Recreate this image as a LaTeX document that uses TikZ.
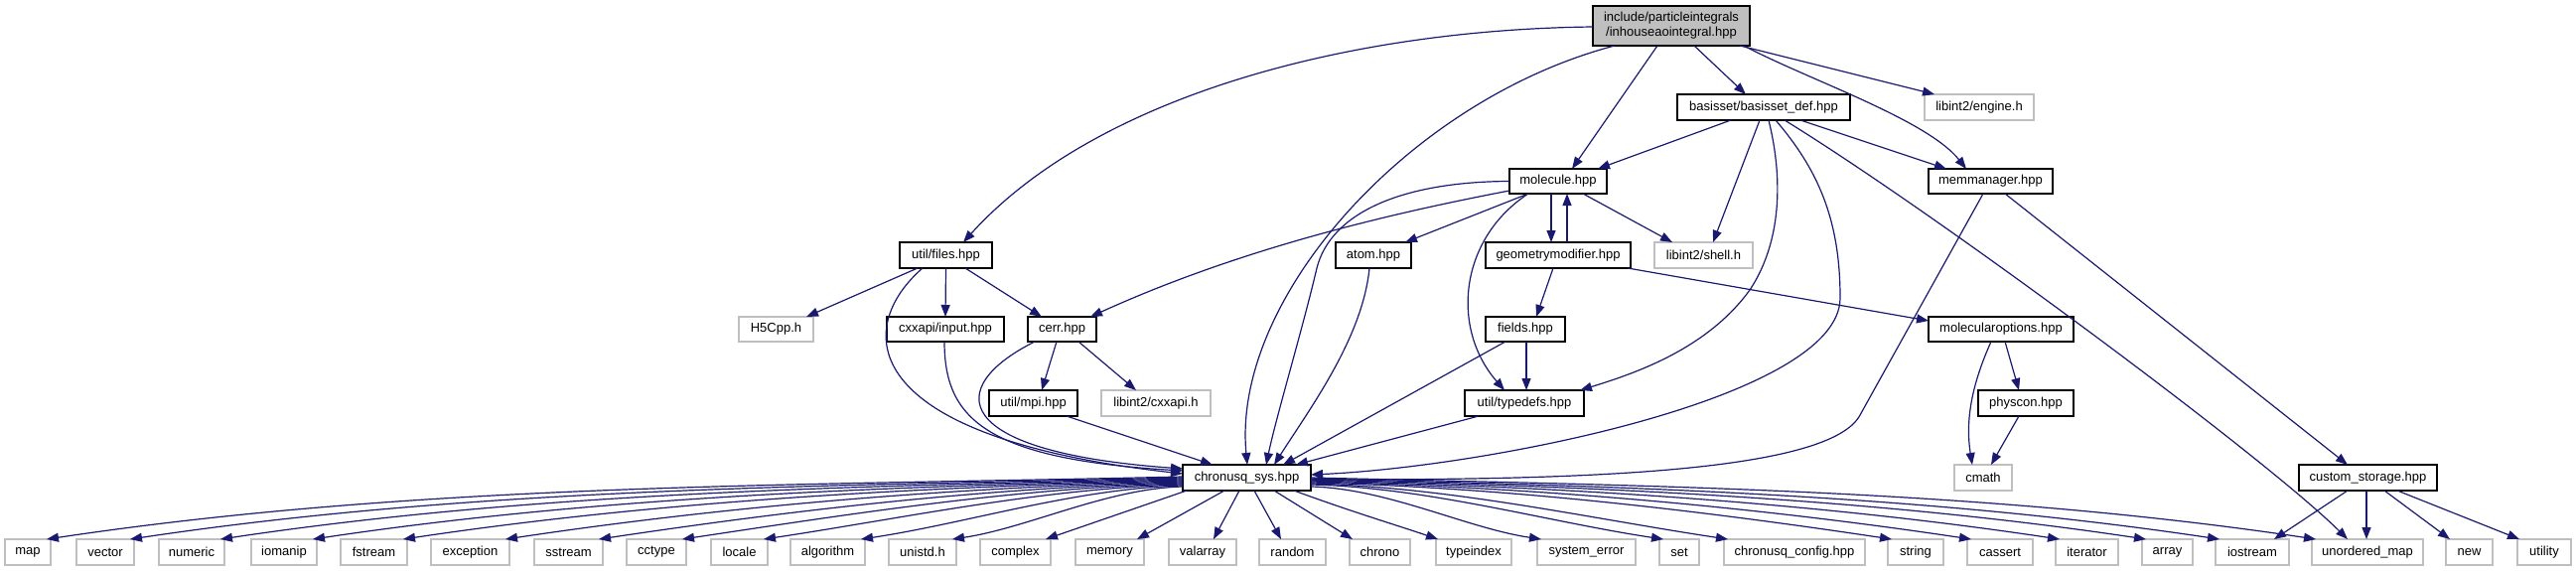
\documentclass[tikz,border=0pt]{standalone}
\usepackage{fontspec}
\setmainfont{Liberation Sans}
\usetikzlibrary{arrows.meta}
\definecolor{edgec}{HTML}{191970}
\definecolor{grayb}{HTML}{BFBFBF}
\newcommand\nd[7]{\node[#1, minimum width={(#4-#3)*1pt}, minimum height={(#6-#5)*1pt}] (#2) at ({(#3+#4)/2},{(#5+#6)/2}) {#7};}
\begin{document}
\begin{tikzpicture}[x=1pt,y=-1pt,
  every node/.style={font=\fontsize{13}{15}\selectfont, inner sep=0pt, outer sep=0pt},
  fnode/.style={draw=black, line width=1.4pt, fill=white, rectangle},
  enode/.style={draw=grayb, line width=1.2pt, fill=white, rectangle},
  rootnode/.style={draw=black, line width=1.4pt, fill=grayb, rectangle, align=center},
  dep/.style={draw=edgec, line width=1.2pt, -{Triangle[length=12pt,width=9pt]}}
]
\useasboundingbox (0,0) rectangle (2594,575);
% ---------- nodes
\nd{rootnode}{root}{1604}{1762}{6}{46}{include/particleintegrals\\/inhouseaointegral.hpp}
\nd{fnode}{basis}{1689}{1863}{95}{121}{basisset/basisset\_def.hpp}
\nd{enode}{engine}{1938}{2048}{95}{121}{libint2/engine.h}
\nd{fnode}{molecule}{1520}{1618}{170}{195}{molecule.hpp}
\nd{fnode}{memman}{1942}{2067}{170}{195}{memmanager.hpp}
\nd{fnode}{files}{906}{999}{244}{270}{util/files.hpp}
\nd{fnode}{atom}{1345}{1421}{244}{270}{atom.hpp}
\nd{fnode}{geom}{1496}{1642}{244}{270}{geometrymodifier.hpp}
\nd{enode}{shell}{1666}{1765}{244}{270}{libint2/shell.h}
\nd{enode}{hfive}{744}{819}{319}{344}{H5Cpp.h}
\nd{fnode}{input}{893}{1011}{319}{344}{cxxapi/input.hpp}
\nd{fnode}{cerr}{1035}{1104}{319}{344}{cerr.hpp}
\nd{fnode}{fields}{1496}{1576}{319}{344}{fields.hpp}
\nd{fnode}{molopt}{1942}{2088}{319}{344}{molecularoptions.hpp}
\nd{fnode}{mpi}{996}{1085}{393}{419}{util/mpi.hpp}
\nd{enode}{cxxapih}{1109}{1219}{393}{419}{libint2/cxxapi.h}
\nd{fnode}{typedefs}{1475}{1595}{393}{419}{util/typedefs.hpp}
\nd{fnode}{physcon}{1992}{2088}{393}{419}{physcon.hpp}
\nd{fnode}{sys}{1191}{1320}{468}{494}{chronusq\_sys.hpp}
\nd{enode}{cmath}{1968}{2026}{468}{494}{cmath}
\nd{fnode}{custom}{2315}{2454}{468}{494}{custom\_storage.hpp}
\foreach \n/\a/\b/\t in {map/5/51/map, vector/77/135/vector, numeric/160/226/numeric,
  iomanip/253/319/iomanip, fstream/343/410/fstream, exception/434/513/exception,
  sstream/538/607/sstream, cctype/631/691/cctype, locale/716/773/locale,
  algorithm/796/871/algorithm, unistd/895/963/unistd.h, complex/987/1058/complex,
  memory/1083/1152/memory, valarray/1177/1245/valarray, random/1268/1335/random,
  chrono/1359/1420/chrono, typeindex/1446/1522/typeindex, syserr/1548/1647/system\_error,
  set/1671/1711/set, config/1736/1878/chronusq\_config.hpp, string/1901/1957/string,
  cassert/1981/2047/cassert, iterator/2070/2133/iterator, array/2157/2208/array,
  iostream/2231/2305/iostream, unord/2328/2440/unordered\_map, new/2463/2510/new,
  utility/2535/2589/utility}
  {\nd{enode}{\n}{\a}{\b}{543}{569}{\t}}
% ---------- edges from root
\draw[dep] ([yshift=-1pt]root.west) .. controls (1350,30) and (1100,100) .. ([xshift=17.5pt]files.north);
\draw[dep] ([xshift=-57pt]root.south) .. controls (1420,100) and (1240,300) .. ([xshift=0.5pt]sys.north);
\draw[dep] ([xshift=-14pt]root.south) -- ([xshift=14pt]molecule.north);
\draw[dep] ([xshift=23pt]root.south) -- ([xshift=-18pt]basis.north);
\draw[dep] ([xshift=69pt]root.south) -- ([xshift=-45pt]engine.north);
\draw[dep] ([xshift=73pt]root.south) .. controls (1820,80) and (1940,120) .. ([xshift=-24.5pt]memman.north);
% ---------- basisset
\draw[dep] ([xshift=-33pt]basis.south) -- ([xshift=40pt]molecule.north);
\draw[dep] ([xshift=-4pt]basis.south) -- ([xshift=9.5pt]shell.north);
\draw[dep] ([xshift=37pt]basis.south) -- ([xshift=-44.5pt]memman.north);
\draw[dep] ([xshift=5pt]basis.south) .. controls (1798,190) and (1790,250) .. (1762,292) .. controls (1720,350) and (1650,375) .. ([xshift=-4pt]typedefs.north east);
\draw[dep] ([xshift=12pt]basis.south) .. controls (1830,170) and (1853,220) .. (1853,300) .. controls (1853,400) and (1500,470) .. ([yshift=3pt]sys.east);
\draw[dep] ([xshift=21pt]basis.south) .. controls (1950,215) and (2280,460) .. ([xshift=-20pt]unord.north);
% ---------- memmanager
\draw[dep] ([xshift=-7.5pt]memman.south) -- (1873,418) .. controls (1840,480) and (1550,483) .. ([yshift=-2pt]sys.east);
\draw[dep] ([xshift=14.5pt]memman.south) -- ([xshift=-20.5pt]custom.north);
% ---------- molecule
\draw[dep] (molecule.west) .. controls (1410,183) and (1340,215) .. (1326,270) .. controls (1312,330) and (1285,420) .. ([xshift=19.5pt]sys.north);
\draw[dep] ([yshift=-9.5pt]molecule.west) .. controls (1400,215) and (1250,250) .. ([xshift=-6pt]cerr.north east);
\draw[dep] ([xshift=-30pt]molecule.south) -- ([xshift=-6pt]atom.north east);
\draw[dep] ([xshift=-30pt]molecule.south) .. controls (1470,240) and (1460,330) .. ([xshift=-20pt]typedefs.north);
\draw[dep] ([xshift=-7pt]molecule.south) -- ([xshift=-7pt]geom.north);
\draw[dep] ([xshift=9pt]geom.north) -- ([xshift=9pt]molecule.south);
\draw[dep] ([xshift=25pt]molecule.south) -- ([xshift=-31.5pt]shell.north);
% ---------- geometrymodifier, fields, typedefs, atom
\draw[dep] ([xshift=-5pt]geom.south) -- ([xshift=11pt]fields.north);
\draw[dep] ([xshift=-3pt]geom.south east) -- ([yshift=-4pt]molopt.north west);
\draw[dep] ([xshift=1pt]fields.south) -- ([xshift=2pt]typedefs.north);
\draw[dep] ([xshift=-20pt]fields.south) -- ([xshift=36.5pt]sys.north);
\draw[dep] ([xshift=-46pt]typedefs.south) -- ([xshift=49.5pt]sys.north);
\draw[dep] ([xshift=-4pt]atom.south) .. controls (1372,340) and (1320,410) .. ([xshift=27.5pt]sys.north);
% ---------- molecularoptions, physcon
\draw[dep] ([xshift=-10pt]molopt.south) .. controls (1982,395) and (1980,430) .. ([xshift=-11pt]cmath.north);
\draw[dep] ([xshift=4pt]molopt.south) -- ([xshift=-7pt]physcon.north);
\draw[dep] ([xshift=-7pt]physcon.south) -- ([xshift=8pt]cmath.north);
% ---------- custom_storage
\draw[dep] ([xshift=-20.5pt]custom.south) -- ([xshift=22pt]iostream.north);
\draw[dep] ([xshift=-1.5pt]custom.south) -- ([xshift=-1pt]unord.north);
\draw[dep] ([xshift=16.5pt]custom.south) -- ([xshift=-19.5pt]new.north);
\draw[dep] ([xshift=29.5pt]custom.south) -- ([xshift=2pt]utility.north west);
% ---------- files, cerr, mpi
\draw[dep] ([xshift=-28.5pt]files.south) -- ([xshift=-7pt]hfive.north east);
\draw[dep] (files.south) -- (input.north);
\draw[dep] ([xshift=19.5pt]files.south) -- ([xshift=-20.5pt]cerr.north);
\draw[dep] ([xshift=-23.5pt]files.south) .. controls (860,330) and (860,440) .. ([yshift=4pt]sys.west);
\draw[dep] ([xshift=-1pt]input.south) .. controls (951,420) and (990,462) .. ([yshift=7pt]sys.west);
\draw[dep] ([xshift=-27.5pt]cerr.south) .. controls (950,390) and (955,455) .. ([yshift=9pt]sys.west);
\draw[dep] ([xshift=-5.5pt]cerr.south) -- ([xshift=8.5pt]mpi.north);
\draw[dep] ([xshift=16.5pt]cerr.south) -- ([xshift=-20pt]cxxapih.north);
\draw[dep] ([xshift=33.5pt]mpi.south) -- ([xshift=-34.5pt]sys.north);
% ---------- chronusq_sys to the bottom row
\foreach \n/\sy/\ex in {map/480/51, vector/481/135, numeric/482/226, iomanip/483/319,
  fstream/484/410, exception/485/513, sstream/486/607, cctype/487/691, locale/488/773,
  algorithm/489/871, unistd/490/963}{
  \pgfmathsetmacro\d{1191-\ex}
  \pgfmathsetmacro\ys{481-\sy}
  \pgfmathsetmacro\ca{1191-\d/3}
  \pgfmathsetmacro\cb{\sy+\d*0.008}
  \pgfmathsetmacro\cc{\ex-4+\d/3}
  \pgfmathsetmacro\cd{543-\d*0.05}
  \draw[dep] ([yshift=\ys pt]sys.west) .. controls (\ca,\cb) and (\cc,\cd) .. ([xshift=-4pt]\n.north east);
}
\foreach \n/\sy/\ex in {syserr/490/1548, set/488/1671, config/487/1736, string/486/1901,
  cassert/485/1981, iterator/484/2070, array/483/2157, iostream/482/2231, unord/481/2328}{
  \pgfmathsetmacro\d{\ex-1321}
  \pgfmathsetmacro\ys{481-\sy}
  \pgfmathsetmacro\ca{1321+\d/3}
  \pgfmathsetmacro\cb{\sy+\d*0.008}
  \pgfmathsetmacro\cc{\ex+4-\d/3}
  \pgfmathsetmacro\cd{543-\d*0.05}
  \draw[dep] ([yshift=\ys pt]sys.east) .. controls (\ca,\cb) and (\cc,\cd) .. ([xshift=4pt]\n.north west);
}
\draw[dep] ([xshift=4pt]sys.south west) -- ([xshift=-5pt]complex.north east);
\draw[dep] ([xshift=-22.5pt]sys.south) -- ([xshift=-7pt]memory.north east);
\draw[dep] ([xshift=-7.5pt]sys.south) -- ([xshift=11pt]valarray.north);
\draw[dep] ([xshift=7.5pt]sys.south) -- ([xshift=-11.5pt]random.north);
\draw[dep] ([xshift=27.5pt]sys.south) -- ([xshift=3pt]chrono.north west);
\draw[dep] ([xshift=47.5pt]sys.south) .. controls (1360,515) and (1410,530) .. ([xshift=2pt]typeindex.north west);
\end{tikzpicture}
\end{document}
